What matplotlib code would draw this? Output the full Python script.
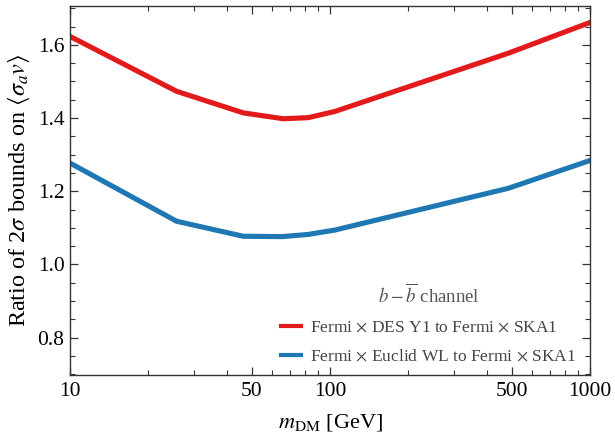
import matplotlib
matplotlib.use("Agg")
import matplotlib.pyplot as plt
from matplotlib.ticker import FixedLocator, NullFormatter, MultipleLocator

plt.rcParams['font.family'] = ['Liberation Serif', 'DejaVu Serif']
plt.rcParams['mathtext.fontset'] = 'stix'

mass_red = [10, 25.7, 46.4, 66.1, 82.5, 104.5, 485, 1000]
ratio_red = [1.623, 1.473, 1.414, 1.398, 1.401, 1.418, 1.577, 1.661]
mass_blue = [10, 25.7, 46.4, 65.2, 82.5, 104.5, 485, 1000]
ratio_blue = [1.277, 1.118, 1.077, 1.076, 1.082, 1.094, 1.208, 1.284]

label_red = r"Fermi $\times$ DES Y1 to Fermi $\times$ SKA1"
label_blue = r"Fermi $\times$ Euclid WL to Fermi $\times$ SKA1"
legend_title = r"$b-\overline{b}$ channel"
xticks = [10, 50, 100, 500, 1000]
xticklabels = ["10", "50", "100", "500", "1000"]
yticks = [0.8, 1.0, 1.2, 1.4, 1.6]

W, H = 615, 433
fig = plt.figure(figsize=(W / 100, H / 100), dpi=100)
ax = fig.add_axes([70 / W, 1 - 375 / H, 520 / W, 369 / H])

ax.plot(mass_red, ratio_red, color='#e31a1c', lw=3.7, label=label_red, solid_joinstyle='round')
ax.plot(mass_blue, ratio_blue, color='#1f78b4', lw=3.7, label=label_blue, solid_joinstyle='round')

ax.set_xscale('log')
ax.set_xlim(10, 1000)
ax.set_ylim(0.698, 1.706)
ax.xaxis.set_major_locator(FixedLocator(xticks))
ax.set_xticklabels(xticklabels)
minors = [m * d for d in (10, 100) for m in range(2, 10) if m * d not in xticks]
ax.xaxis.set_minor_locator(FixedLocator(minors))
ax.xaxis.set_minor_formatter(NullFormatter())
ax.set_yticks(yticks)
ax.set_yticklabels([f"{v:.1f}" for v in yticks])
ax.yaxis.set_minor_locator(MultipleLocator(0.05))

ax.tick_params(which='both', direction='in', top=True, right=True, labelsize=15.5, color='#333333')
ax.tick_params(which='major', length=6, width=0.9)
ax.tick_params(which='minor', length=3.5, width=0.8)
ax.tick_params(axis='x', pad=5)
ax.tick_params(axis='y', pad=4)
for s in ax.spines.values():
    s.set_color('#333333')
    s.set_linewidth(1.0)

ax.set_xlabel(r"$m_{\rm DM}$ [GeV]", fontsize=16, labelpad=8)
ax.set_ylabel(r"Ratio of 2$\sigma$ bounds on $\langle\sigma_a v\rangle$", fontsize=17.5, labelpad=4)

leg = ax.legend(loc='upper left', frameon=False, title=legend_title, fontsize=12.5,
                title_fontsize=13.5, handlelength=1.15, handletextpad=0.5, labelspacing=0.75,
                borderpad=0, borderaxespad=0,
                bbox_to_anchor=(281 / W, 1 - 283 / H), bbox_transform=fig.transFigure)
for t in leg.get_texts():
    t.set_color('#444444')
leg.get_title().set_color('#555555')
for h in leg.legend_handles:
    h.set_linewidth(3.0)

fig.savefig("out.png", dpi=100)
